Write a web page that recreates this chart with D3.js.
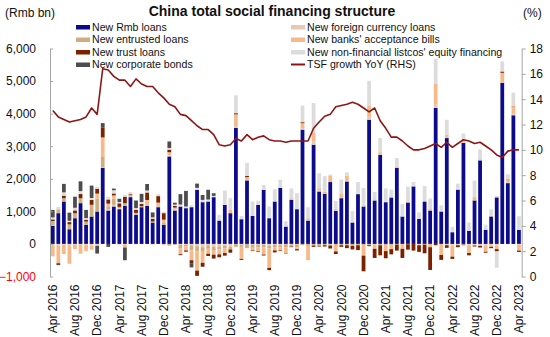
<!DOCTYPE html>
<html><head><meta charset="utf-8">
<script src="https://cdn.jsdelivr.net/npm/d3@7"></script>
<style>body{margin:0;background:#fff}svg{display:block;font-family:"Liberation Sans",Arial,sans-serif}</style>
</head><body><svg id="c" width="550" height="337"></svg>
<script>
const categories = [
"Apr 2016","May 2016","Jun 2016","Jul 2016","Aug 2016","Sep 2016","Oct 2016","Nov 2016","Dec 2016",
"Jan 2017","Feb 2017","Mar 2017","Apr 2017","May 2017","Jun 2017","Jul 2017","Aug 2017","Sep 2017","Oct 2017","Nov 2017","Dec 2017",
"Jan 2018","Feb 2018","Mar 2018","Apr 2018","May 2018","Jun 2018","Jul 2018","Aug 2018","Sep 2018","Oct 2018","Nov 2018","Dec 2018",
"Jan 2019","Feb 2019","Mar 2019","Apr 2019","May 2019","Jun 2019","Jul 2019","Aug 2019","Sep 2019","Oct 2019","Nov 2019","Dec 2019",
"Jan 2020","Feb 2020","Mar 2020","Apr 2020","May 2020","Jun 2020","Jul 2020","Aug 2020","Sep 2020","Oct 2020","Nov 2020","Dec 2020",
"Jan 2021","Feb 2021","Mar 2021","Apr 2021","May 2021","Jun 2021","Jul 2021","Aug 2021","Sep 2021","Oct 2021","Nov 2021","Dec 2021",
"Jan 2022","Feb 2022","Mar 2022","Apr 2022","May 2022","Jun 2022","Jul 2022","Aug 2022","Sep 2022","Oct 2022","Nov 2022","Dec 2022",
"Jan 2023","Feb 2023","Mar 2023","Apr 2023"];

const tickLabels = ["Apr 2016","Aug 2016","Dec 2016","Apr 2017","Aug 2017","Dec 2017","Apr 2018","Aug 2018","Dec 2018",
"Apr 2019","Aug 2019","Dec 2019","Apr 2020","Aug 2020","Dec 2020","Apr 2021","Aug 2021","Dec 2021","Apr 2022","Aug 2022","Dec 2022","Apr 2023"];
const leftTicks = [-1000,0,1000,2000,3000,4000,5000,6000];
const rightTicks = [0,2,4,6,8,10,12,14,16,18];

const rmbLoans = [
554,944,1303,451,790,1252,585,841,995,
2340,1026,1149,1067,1170,1436,893,1128,1170,657,1128,585,
2686,1026,1149,1098,1128,1662,1282,1303,1436,718,1200,944,
3559,759,1950,862,1200,1662,790,1303,1720,533,1354,1067,
3508,718,3046,1610,1540,1900,1015,1405,1918,657,1529,1149,
3815,1334,2738,1282,1426,2338,841,1272,1765,770,1303,1026,
4175,995,3250,359,1662,3098,400,1334,2564,431,841,1426,
4944,1867,3950,431];
const fxLoans = [
-40,-60,-20,-70,-30,-30,-20,-50,-60,
20,30,50,30,-10,10,10,10,10,0,20,-40,
30,40,-30,-30,-40,-70,-100,-40,-90,-80,-50,-90,
40,-20,0,-20,-30,-20,-60,-20,-40,-10,-20,-10,
50,80,110,40,10,-20,60,10,20,10,20,10,
60,40,60,20,10,40,10,0,10,-20,10,60,
80,20,-40,-60,-40,-20,-50,-50,-60,-40,-40,-60,
10,60,40,-20];
const entrustedLoans = [
150,120,100,150,150,150,100,360,400,
310,100,190,40,80,20,50,20,20,30,20,60,
-50,-30,-100,-40,-160,-160,-140,-110,-120,-90,-80,-80,
-90,-70,-130,-100,-70,-90,-80,-80,-60,-90,-60,-100,
-40,-60,-50,-60,-40,-30,-30,-40,-40,-60,-40,-30,
-40,-20,-40,-30,-30,-20,-20,-10,0,-10,0,10,
20,10,10,10,10,10,10,10,20,10,20,30,
0,10,10,10];
const bankBills = [
-340,-530,-290,-540,-130,-270,-200,-130,150,
600,80,100,-20,-100,30,-10,0,150,-20,100,100,
100,50,-185,-130,-300,-590,-340,-150,-120,-150,-150,100,
380,-370,100,-80,-130,-215,-595,-100,-100,-200,50,-50,
150,-440,250,60,60,200,-200,140,150,0,0,-330,
360,-130,30,-190,-130,30,-130,30,20,-10,-20,-100,
650,-340,100,-330,20,50,-230,100,20,-200,-50,-100,
300,20,230,-185];
const trustLoans = [
50,0,80,70,90,130,60,150,150,
310,130,60,110,200,30,100,70,230,90,200,200,
80,50,-30,-40,-90,-160,-120,-70,-120,-90,-80,-100,
35,-30,40,-20,-20,-30,-70,-60,-20,-10,-20,-40,
30,0,-40,-20,-40,-90,-80,-50,-90,-110,-150,-480,
-30,-280,-310,-220,-160,-185,-280,-165,-205,-205,-267,-700,
-40,-150,-80,-70,-60,-20,-70,-30,-50,-30,-40,-70,
40,20,10,-40];
const equityFinancing = [
60,70,100,40,80,90,50,60,60,
0,80,100,40,50,70,50,60,60,40,60,40,
50,40,60,50,60,60,70,60,40,175,440,360,
550,100,400,440,130,150,360,380,250,160,300,490,
510,330,920,460,470,30,240,420,110,340,350,560,
770,220,430,400,230,230,380,460,110,200,460,300,
750,160,450,150,160,230,250,500,300,150,200,-500,
310,160,400,410];
const corporateBonds = [
230,-60,260,250,340,300,250,380,-236,
130,-90,50,100,-390,0,230,250,200,150,0,0,
200,60,320,480,-130,130,150,300,80,0,0,0,
0,0,0,0,0,0,0,0,0,0,0,0,
0,0,0,0,0,0,0,0,0,0,0,0,
0,0,0,0,0,0,0,0,0,0,0,0,
0,0,0,0,0,0,0,0,0,0,0,0,
0,0,0,0];
const tsfGrowth = [
13.1,12.6,12.4,12.2,12.3,12.4,12.6,13.3,12.8,
16.4,16.3,15.8,15.5,15.5,15.0,15.6,15.2,15.0,15.0,14.5,14.1,
13.6,13.4,12.8,12.7,12.3,11.9,11.6,11.6,11.2,10.4,10.3,10.4,
10.9,10.7,11.2,10.8,11.0,11.1,10.8,10.7,10.7,10.6,10.7,10.7,
10.7,10.7,11.7,12.2,12.65,12.8,13.4,13.5,13.6,13.75,13.6,13.3,
13.0,13.3,12.3,11.7,11.0,11.0,10.7,10.3,10.0,10.0,10.1,10.3,
10.5,10.2,10.6,10.2,10.5,10.8,10.7,10.5,10.6,10.3,10.0,9.6,
9.4,9.9,10.0,10.0];

const seriesNames = ["New Rmb loans","New foreign currency loans","New entrusted loans","New banks' acceptance bills","New trust loans","New non-financial listcos' equity financing","New corporate bonds"];
const seriesColors = ["#0B0B8C","#E6C9B4","#CFAE82","#F6BA8A","#7B2100","#DCDCDC","#4D4D4D"];
const lineName = "TSF growth YoY (RHS)";
const lineColor = "#8E1515";

const keys = ["rmb","fx","ent","bills","trust","eq","bonds"];
const arrays = [rmbLoans,fxLoans,entrustedLoans,bankBills,trustLoans,equityFinancing,corporateBonds];
const rows = categories.map((c,i)=>{const r={cat:c}; keys.forEach((k,j)=>r[k]=arrays[j][i]); return r;});

const svg = d3.select("#c");
const x0 = 50, x1 = 521.7, yTop = 48.5, yBot = 276.5;
const x = d3.scaleBand().domain(categories).range([x0,x1]).paddingInner(0.32).paddingOuter(0.16);
const yL = d3.scaleLinear().domain([-1000,6000]).range([yBot,yTop]);
const yR = d3.scaleLinear().domain([0,18]).range([yBot,yTop]);

const stacked = d3.stack().keys(keys).offset(d3.stackOffsetDiverging)(rows);
const gBars = svg.append("g");
stacked.forEach((layer,j)=>{
  gBars.append("g").attr("fill",seriesColors[j]).selectAll("rect").data(layer).join("rect")
    .attr("x",d=>x(d.data.cat))
    .attr("width",x.bandwidth())
    .attr("y",d=>yL(Math.max(d[0],d[1])))
    .attr("height",d=>Math.abs(yL(d[0])-yL(d[1])));
});

const line = d3.line().x((d,i)=>x(categories[i])+x.bandwidth()/2).y(d=>yR(d));
svg.append("path").datum(tsfGrowth).attr("d",line).attr("fill","none").attr("stroke",lineColor).attr("stroke-width",1.6).attr("stroke-linejoin","round");

const axisColor = "#A6A6A6";
const gL = svg.append("g").attr("transform",`translate(${x0},0)`)
  .call(d3.axisLeft(yL).tickValues(leftTicks).tickSizeInner(-3).tickSizeOuter(0).tickPadding(14).tickFormat(d3.format(",")));
const gR = svg.append("g").attr("transform",`translate(${x1},0)`)
  .call(d3.axisRight(yR).tickValues(rightTicks).tickSizeInner(4).tickSizeOuter(0).tickPadding(4));
[gL,gR].forEach(g=>{
  g.selectAll("path,line").attr("stroke",axisColor);
  g.selectAll("text").attr("font-size",12).attr("fill","#111").attr("font-family","Liberation Sans, Arial, sans-serif");
});
gL.selectAll("text").filter(d=>d<0).attr("fill","#FF0000");

svg.append("g").selectAll("text").data(tickLabels).join("text")
  .attr("transform",d=>`translate(${x(d)+x.bandwidth()/2},284.5) rotate(-90)`)
  .attr("text-anchor","end").attr("dy","0.35em").attr("font-size",12).attr("fill","#111").text(d=>d);

svg.append("text").attr("x",272).attr("y",16).attr("text-anchor","middle").attr("font-weight","bold").attr("font-size",14).attr("fill","#111").text("China total social financing structure");
svg.append("text").attr("x",5).attr("y",17).attr("font-size",12).attr("fill","#111").text("(Rmb bn)");
svg.append("text").attr("x",523).attr("y",17).attr("font-size",12).attr("fill","#111").text("(%)");

const legRowsY = [27,39.5,52,64.5];
const legItems = [
  {name:seriesNames[0],color:seriesColors[0],col:0,row:0},
  {name:seriesNames[1],color:seriesColors[1],col:1,row:0},
  {name:seriesNames[2],color:seriesColors[2],col:0,row:1},
  {name:seriesNames[3],color:seriesColors[3],col:1,row:1},
  {name:seriesNames[4],color:seriesColors[4],col:0,row:2},
  {name:seriesNames[5],color:seriesColors[5],col:1,row:2},
  {name:seriesNames[6],color:seriesColors[6],col:0,row:3},
  {name:lineName,color:lineColor,col:1,row:3,line:true}
];
const colX = [76,291];
const lg = svg.append("g");
legItems.forEach(it=>{
  const cx = colX[it.col], cy = legRowsY[it.row];
  if(it.line){
    lg.append("line").attr("x1",cx).attr("x2",cx+14).attr("y1",cy).attr("y2",cy).attr("stroke",it.color).attr("stroke-width",2);
  } else {
    lg.append("rect").attr("x",cx).attr("y",cy-2).attr("width",14).attr("height",4.5).attr("fill",it.color);
  }
  lg.append("text").attr("x",cx+16).attr("y",cy+3.8).attr("font-size",10.6).attr("fill","#111").text(it.name);
});
</script></body></html>
